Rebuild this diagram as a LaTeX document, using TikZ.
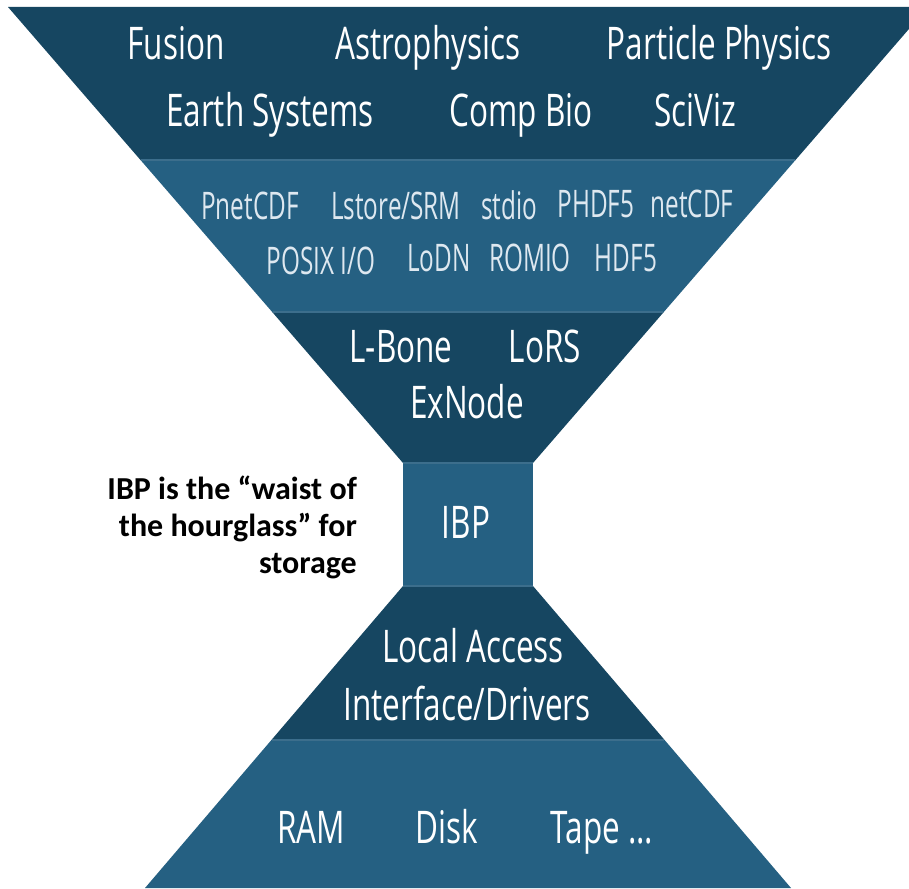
\documentclass[tikz,border=0pt]{standalone}
\usepackage{fontspec}
\newfontfamily\condfont{Open Sans}[FakeStretch=0.70]
\newfontfamily\narrowfont{Open Sans}[FakeStretch=0.64]
\newfontfamily\notefont{Carlito}
\definecolor{banddark}{RGB}{22,70,97}
\definecolor{bandlight}{RGB}{37,96,130}
\definecolor{bandedge}{RGB}{60,110,140}
\definecolor{softwhite}{RGB}{222,232,240}
\begin{document}
\begin{tikzpicture}[x=1pt,y=-1pt,
  dark/.style={fill=banddark},
  light/.style={fill=bandlight},
  seam/.style={draw=bandedge,line width=1.2pt},
  big/.style={text=white,font=\condfont\fontsize{45}{45}\selectfont,anchor=base,inner sep=0pt},
  mid/.style={text=softwhite,font=\narrowfont\fontsize{38}{38}\selectfont,anchor=base,inner sep=0pt},
  note/.style={text=black,font=\notefont\bfseries\fontsize{32}{37}\selectfont,align=right,anchor=north east,inner sep=0pt}]
\useasboundingbox (0,0) rectangle (909,888);
\begin{scope}
\clip (0,0) rectangle (909,888);
% upper funnel: applications, libraries, logistical tools
\fill[dark]  (8,7) -- (928,7) -- (795.5,160) -- (140.5,160) -- cycle;
\fill[light] (140.5,160) -- (795.5,160) -- (663.8,312) -- (272.2,312) -- cycle;
\fill[dark]  (272.2,312) -- (663.8,312) -- (533,463) -- (403,463) -- cycle;
% waist
\fill[light] (403,463) rectangle (533,586);
% lower funnel: drivers and media
\fill[dark]  (403,586) -- (533,586) -- (664.6,740) -- (271.4,740) -- cycle;
\fill[light] (271.4,740) -- (664.6,740) -- (791,888) -- (145,888) -- cycle;
% seams between layers
\draw[seam] (141,160) -- (795,160);
\draw[seam] (273,312) -- (663,312);
\draw[seam] (403,463) -- (533,463);
\draw[seam] (403,586) -- (533,586);
\draw[seam] (272,740) -- (664,740);
\end{scope}

% applications
\node[big] (fusion) at (176,60) {Fusion};
\node[big] (astro) at (428,60) {Astrophysics};
\node[big] (particle) at (719,60) {Particle Physics};
\node[big] (earth) at (270,126) {Earth Systems};
\node[big] (compbio) at (521,126) {Comp Bio};
\node[big] (sciviz) at (695,126) {SciViz};

% I/O libraries
\node[mid] (pnetcdf) at (250,219) {PnetCDF};
\node[mid] (lstore) at (396,219) {Lstore/SRM};
\node[mid] (stdio) at (509,219) {stdio};
\node[mid] (phdf) at (596,217) {PHDF5};
\node[mid] (netcdf) at (692,217) {netCDF};
\node[mid] (posix) at (321,274) {POSIX I/O};
\node[mid] (lodn) at (439,271) {LoDN};
\node[mid] (romio) at (530,271) {ROMIO};
\node[mid] (hdf) at (626,271) {HDF5};

% logistical tools
\node[big] (lbone) at (401,362) {L-Bone};
\node[big] (lors) at (545,362) {LoRS};
\node[big] (exnode) at (467,418) {ExNode};

% waist
\node[big] (ibp) at (466,538) {IBP};

% local access
\node[big] (local) at (473,662) {Local Access};
\node[big] (iface) at (467,720) {Interface/Drivers};

% storage media
\node[big] (ram) at (311,843) {RAM};
\node[big] (disk) at (447,843) {Disk};
\node[big] (tape) at (602,843) {Tape ...};

% side note
\node[note] (waistnote) at (357,476) {IBP is the “waist of\\the hourglass” for\\storage};
\end{tikzpicture}
\end{document}
